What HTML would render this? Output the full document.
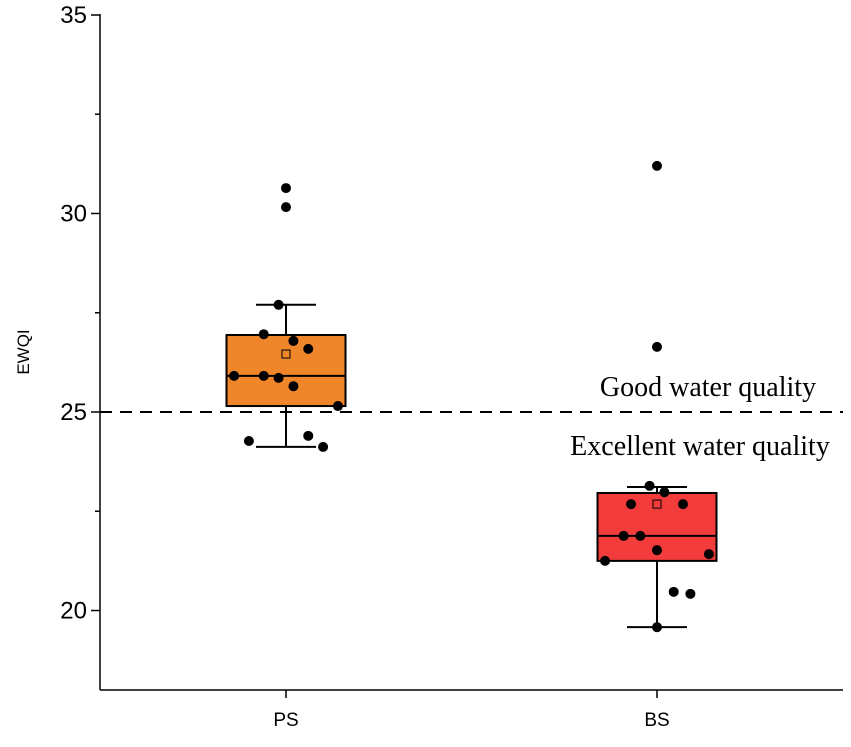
<!DOCTYPE html>
<html><head><meta charset="utf-8"><style>
body{margin:0;background:#fff}
svg text{font-family:"Liberation Sans",sans-serif}
</style></head><body>
<svg id="chart" width="851" height="742">
<g id="g"></g>
</svg>
<script>
const categories=["PS","BS"];
const catX=[286,657];
const psPoints=[30.64,30.16,27.70,26.96,26.79,26.59,25.91,25.86,25.65,25.15,24.27,24.40,24.12,25.91];
const psJitter=[0,0,-0.02,-0.06,0.02,0.06,-0.14,-0.02,0.02,0.14,-0.10,0.06,0.10,-0.06];
const bsPoints=[23.14,22.98,22.68,22.68,21.88,21.88,21.52,21.42,21.25,20.47,20.42,19.58,31.2,26.64];
const bsJitter=[-0.02,0.02,-0.07,0.07,-0.09,-0.045,0,0.14,-0.14,0.045,0.09,0,0,0];
const boxStats=[[24.12,25.15,25.91,26.94,27.70,26.46],[19.58,21.25,21.88,22.96,23.11,22.68]];
const boxColors=["#f0862a","#f23c3c"];
const yTicks=[20,25,30,35];
const threshold=25;
const NS="http://www.w3.org/2000/svg";
const g=document.getElementById('g');
const y=v=>412-(v-25)*39.7;
const xs=(i,j)=>catX[i]+j*(catX[1]-catX[0]);
function mk(t,a){const e=document.createElementNS(NS,t);for(const k in a)e.setAttribute(k,a[k]);g.appendChild(e);return e;}
let e;
e=mk('line',{x1:100,y1:14,x2:100,y2:690,stroke:'#000','stroke-width':1.5});


e=mk('line',{x1:100,y1:690,x2:843,y2:690,stroke:'#000','stroke-width':1.5});


yTicks.forEach(t=>{
 e=mk('line',{x1:91,x2:100,y1:y(t),y2:y(t),stroke:'#000','stroke-width':1.5});
 
 
 e=mk('text',{x:87,y:y(t)+8,'text-anchor':'end','font-size':24});e.textContent=t;
 
 
 if(t<35){e=mk('line',{x1:95,x2:100,y1:y(t+2.5),y2:y(t+2.5),stroke:'#000','stroke-width':1.5});
 
 }
});
categories.forEach((c,i)=>{
 e=mk('line',{x1:catX[i],x2:catX[i],y1:690,y2:698,stroke:'#000','stroke-width':1.5});
 
 
 e=mk('text',{x:catX[i],y:726,'text-anchor':'middle','font-size':19});e.textContent=c;
 
 
});
e=mk('text',{x:0,y:0,'text-anchor':'middle','font-size':17,transform:'translate(29,352) rotate(-90)'});e.textContent='EWQI';


boxStats.forEach((s,i)=>{
 const cx=catX[i],hw=59.5,cw=30;
 e=mk('line',{x1:cx,x2:cx,y1:y(s[0]),y2:y(s[4]),stroke:'#000','stroke-width':2});
 
 
 [s[0],s[4]].forEach(v=>{e=mk('line',{x1:cx-cw,x2:cx+cw,y1:y(v),y2:y(v),stroke:'#000','stroke-width':2});
 
 });
 e=mk('rect',{x:cx-hw,y:y(s[3]),width:2*hw,height:y(s[1])-y(s[3]),fill:boxColors[i],stroke:'#000','stroke-width':2});
 
 
 e=mk('line',{x1:cx-hw,x2:cx+hw,y1:y(s[2]),y2:y(s[2]),stroke:'#000','stroke-width':2});
 
 
 e=mk('rect',{x:cx-4,y:y(s[5])-4,width:8,height:8,fill:'none',stroke:'#000','stroke-width':1});
 
 
});
[[psPoints,psJitter,0],[bsPoints,bsJitter,1]].forEach(([p,j,i])=>{
 p.forEach((v,k)=>{e=mk('circle',{cx:xs(i,j[k]),cy:y(v),r:5,fill:'#000'});
 
 });
});
e=mk('line',{x1:100,x2:843,y1:y(threshold),y2:y(threshold),stroke:'#000','stroke-width':2,'stroke-dasharray':'12,8'});


e=mk('text',{x:708,y:396,'text-anchor':'middle','font-size':28,style:'font-family:"Liberation Serif",serif'});e.textContent='Good water quality';


e=mk('text',{x:700,y:455,'text-anchor':'middle','font-size':28,style:'font-family:"Liberation Serif",serif'});e.textContent='Excellent water quality';


</script>
</body></html>
